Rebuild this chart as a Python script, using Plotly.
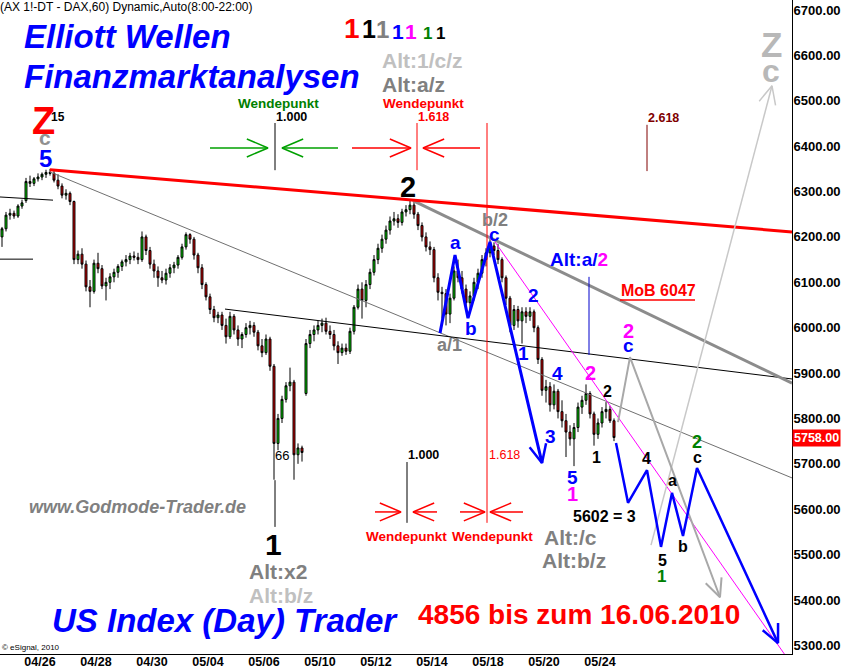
import math
import plotly.graph_objects as go

# ---------------- data (2-hour bars, index 0 = 23.04. afternoon) ----------------
bar = list(range(154))
opens = [6200,6218,6248,6252,6246,6268,6280,6322,6318,6328,6332,6338,6342,6340,6325,6312,6292,6296,6278,6150,
         6162,6140,6090,6080,6142,6130,6092,6100,6112,6122,6135,6145,6150,6158,6155,6150,6200,6170,6140,6125,
         6110,6105,6120,6132,6138,6155,6178,6205,6195,6160,6132,6095,6068,6040,6022,6028,6005,5980,6025,5995,
         5975,5985,6000,6005,5990,5960,5945,5975,5915,5745,5800,5842,5872,5880,5720,5735,5855,5965,5985,5995,
         6005,6010,5992,5985,5960,5945,5955,5948,5992,6045,6085,6060,6095,6122,6150,6175,6195,6215,6235,6240,
         6232,6255,6260,6270,6250,6225,6200,6178,6172,6110,6078,6075,6030,6065,6125,6110,6085,6055,6070,6100,
         6120,6150,6165,6180,6170,6150,6110,6065,6005,6040,6015,6035,6025,6035,6000,5930,5862,5870,5830,5860,
         5815,5795,5770,5755,5780,5825,5840,5855,5810,5765,5790,5815,5820,5795]
highs = [6222,6255,6262,6258,6272,6282,6330,6335,6332,6340,6342,6348,6350,6345,6338,6318,6305,6300,6280,6170,
         6175,6148,6105,6150,6165,6138,6110,6120,6130,6140,6150,6160,6165,6168,6165,6212,6205,6178,6150,6135,
         6125,6130,6140,6145,6160,6185,6210,6208,6200,6165,6140,6100,6075,6048,6035,6035,6020,6035,6030,6005,
         5990,6010,6015,6012,5995,5975,5985,5980,5920,5810,5850,5880,5912,5885,5745,5740,5975,5995,6005,6015,
         6020,6022,6005,5995,5970,5965,5965,6000,6050,6095,6100,6105,6130,6160,6185,6205,6225,6245,6255,6250,
         6262,6270,6282,6280,6255,6232,6210,6190,6178,6120,6090,6085,6075,6135,6150,6125,6095,6080,6110,6130,
         6160,6175,6195,6188,6185,6155,6115,6070,6050,6048,6045,6045,6045,6040,6005,5935,5885,5880,5875,5865,
         5840,5810,5785,5790,5835,5850,5875,5860,5815,5800,5825,5836,5828,5800]
lows = [6178,6212,6238,6240,6242,6262,6275,6310,6312,6322,6325,6330,6335,6320,6305,6285,6282,6270,6140,6140,
        6130,6080,6045,6075,6120,6085,6060,6085,6100,6110,6125,6135,6140,6148,6140,6145,6160,6130,6110,6090,
        6098,6095,6110,6120,6130,6150,6172,6185,6150,6120,6085,6060,6030,6012,6010,5995,5965,5975,5985,5960,
        5955,5978,5985,5980,5950,5935,5940,5905,5665,5730,5790,5835,5860,5665,5700,5705,5850,5955,5970,5985,
        5990,5985,5975,5950,5920,5938,5940,5942,5985,6040,6020,6045,6085,6115,6140,6165,6185,6205,6225,6220,
        6225,6245,6250,6240,6215,6190,6168,6160,6100,6060,6020,6005,6010,6060,6100,6075,6040,6035,6060,6085,
        6110,6135,6155,6160,6140,6100,6050,5990,5995,6000,5965,6010,6015,5990,5920,5850,5835,5815,5820,5800,
        5780,5715,5740,5695,5770,5810,5830,5800,5740,5755,5780,5800,5790,5750]
closes = [6218,6248,6252,6246,6268,6275,6322,6318,6328,6332,6338,6342,6340,6325,6312,6292,6296,6278,6150,6162,
          6140,6090,6080,6142,6130,6092,6100,6112,6122,6135,6145,6150,6158,6155,6150,6200,6170,6140,6125,6110,
          6105,6120,6132,6138,6155,6178,6205,6195,6160,6132,6095,6068,6040,6022,6028,6005,5980,6025,5995,5975,
          5985,6000,6005,5990,5960,5945,5975,5915,5745,5800,5842,5872,5880,5720,5735,5725,5965,5985,5995,6005,
          6010,5992,5985,5960,5945,5955,5948,5992,6045,6085,6060,6095,6122,6150,6175,6195,6215,6235,6240,6232,
          6255,6260,6270,6250,6225,6200,6178,6172,6110,6078,6075,6030,6065,6125,6110,6085,6055,6070,6100,6120,
          6150,6165,6180,6170,6150,6110,6065,6005,6040,6015,6035,6025,6035,6000,5930,5862,5870,5830,5860,5815,
          5795,5770,5755,5780,5825,5840,5855,5810,5765,5790,5815,5820,5795,5758]

day_labels = ["04/26", "04/28", "04/30", "05/04", "05/06", "05/10", "05/12", "05/14", "05/18", "05/20", "05/24"]
day_label_pos = [9.5, 23.5, 37.5, 51.5, 65.5, 79.5, 93.5, 107.5, 121.5, 135.5, 149.5]
price_ticks = [6700, 6600, 6500, 6400, 6300, 6200, 6100, 6000, 5900, 5800, 5700, 5600, 5500, 5400, 5300]
last_price = 5758

# analysis drawings (bar index, price)
red_trend_x, red_trend_y = [12, 197.5], [6348, 6211]
gray_thin_x, gray_thin_y = [12, 197.5], [6343, 5669]
gray_thick_x, gray_thick_y = [102.75, 197.5], [6280, 5878]
black_line_x, black_line_y = [55.75, 197.5], [6041, 5887]
left_line1_x, left_line1_y = [-0.5, 12.75], [6288, 6281]
left_line2_x, left_line2_y = [-0.5, 7.75], [6151, 6151]
abc_x, abc_y = [109.5, 113.25, 116.5, 122, 135], [5988, 6160, 6021, 6189, 5702]
proj_x = [153.5, 156.5, 161.25, 164.75, 167.5, 170.25, 173.75, 194]
proj_y = [5746, 5614, 5686, 5517, 5636, 5541, 5691, 5305]
alt_x, alt_y = [154, 157, 179.5], [5792, 5935, 5406]
altz_x, altz_y = [162.25, 192.5], [5521, 6533]
magenta_x, magenta_y = [123.25, 195.75], [6189, 5279]
blue_vert_x, blue_vert_y = [146.75, 146.75], [6112, 5940]
mob_ul_x, mob_ul_y = [154.5, 173.25], [6061, 6061]
# time projection markers: (x, y_top, y_bottom, color)
time_lines = [
    (68.25, 6451, 6347, "#000000"),
    (68.25, 5664, 5561, "#000000"),
    (103.75, 6451, 6347, "#FF0000"),
    (121.25, 6451, 5570, "#FF0000"),
    (101.25, 5704, 5570, "#000000"),
    (161.25, 6447, 6345, "#800000"),
]
# horizontal "Wendepunkt" arrows: (tail_x, tip_x, y, color)
turn_arrows = [
    (52, 66.5, 6396, "#00A000"), (84, 70, 6396, "#00A000"),
    (87.5, 102.25, 6396, "#FF0000"), (119.5, 105.25, 6396, "#FF0000"),
    (93.25, 99.75, 5594, "#FF0000"), (108.75, 102.75, 5594, "#FF0000"),
    (114.5, 120.75, 5594, "#FF0000"), (130.25, 122, 5594, "#FF0000"),
]

# ---------------- layout geometry ----------------
X0, X1 = -0.5, 197.5
Y0, Y1 = 5281, 6722
W, H = 842, 671
ML, MR, MT, MB = 0, 50, 0, 17
PW, PH = W - ML - MR, H - MT - MB
sx = PW / (X1 - X0)
sy = PH / (Y1 - Y0)
FONT = "Liberation Sans, Arial, sans-serif"


def chevron(xa, ya, xb, yb, L=20, ang=25):
    dx = (xa - xb) * sx
    dy = (ya - yb) * sy
    n = math.hypot(dx, dy)
    ux, uy = dx / n, dy / n
    pts = []
    for s in (1, -1):
        a = math.radians(ang * s)
        rx = ux * math.cos(a) - uy * math.sin(a)
        ry = ux * math.sin(a) + uy * math.cos(a)
        pts.append((xb + rx * L / sx, yb + ry * L / sy))
    return [pts[0][0], xb, pts[1][0]], [pts[0][1], yb, pts[1][1]]


fig = go.Figure()
fig.add_trace(go.Candlestick(
    x=bar, open=opens, high=highs, low=lows, close=closes,
    increasing=dict(fillcolor="#00DD00", line=dict(color="#000000", width=1)),
    decreasing=dict(fillcolor="#E00000", line=dict(color="#000000", width=1)),
    hoverinfo="skip", showlegend=False,
))


def line(xs, ys, color, width, dash=None):
    fig.add_trace(go.Scatter(x=xs, y=ys, mode="lines", hoverinfo="skip", showlegend=False,
                             line=dict(color=color, width=width, dash=dash)))


line(left_line1_x, left_line1_y, "#000000", 1)
line(left_line2_x, left_line2_y, "#000000", 1)
line(gray_thin_x, gray_thin_y, "#707070", 1)
line(black_line_x, black_line_y, "#000000", 1)
line(gray_thick_x, gray_thick_y, "#8C8C8C", 3)
line(red_trend_x, red_trend_y, "#FF0000", 3)
line(magenta_x, magenta_y, "#FF00FF", 1)
line(blue_vert_x, blue_vert_y, "#0000CC", 1)
line(mob_ul_x, mob_ul_y, "#FF0000", 1.5)
for (tx, yt, yb, col) in time_lines:
    line([tx, tx], [yt, yb], col, 1)
for (xt, xh, yy, col) in turn_arrows:
    line([xt, xh], [yy, yy], col, 1.5)
    hx, hy = chevron(xt, yy, xh, yy, L=23, ang=23)
    line(hx, hy, col, 1.5)

line(altz_x, altz_y, "#C8C8C8", 1.5)
hx, hy = chevron(altz_x[-2], altz_y[-2], altz_x[-1], altz_y[-1])
line(hx, hy, "#C8C8C8", 1.5)
line(alt_x, alt_y, "#A8A8A8", 2)
hx, hy = chevron(alt_x[-2], alt_y[-2], alt_x[-1], alt_y[-1])
line(hx, hy, "#A8A8A8", 2)
line(abc_x, abc_y, "#0000FF", 3)
hx, hy = chevron(abc_x[-2], abc_y[-2], abc_x[-1], abc_y[-1])
line(hx, hy, "#0000FF", 2.5)
line(proj_x, proj_y, "#0000FF", 2.5)
hx, hy = chevron(proj_x[-2], proj_y[-2], proj_x[-1], proj_y[-1])
line(hx, hy, "#0000FF", 2.5)

ann = []


def lab(t, x, y, color, size, bold=True, xanchor="center"):
    txt = f"<b>{t}</b>" if bold else t
    ann.append(dict(x=x, y=y, xref="x", yref="y", text=txt, showarrow=False, xanchor=xanchor,
                    yanchor="middle", font=dict(family=FONT, size=size, color=color)))


def ptxt(t, px, py, color, size, xanchor="left"):
    ann.append(dict(x=px / PW, y=1 - py / PH, xref="paper", yref="paper", text=t, showarrow=False,
                    xanchor=xanchor, yanchor="middle", font=dict(family=FONT, size=size, color=color)))


BLUE, MAG, GRAY, LGRAY, GREEN = "#0000FF", "#FF00FF", "#808080", "#C0C0C0", "#008000"

# titles and branding
ptxt("(AX 1!-DT - DAX,60) Dynamic,Auto(8:00-22:00)", -2, 7, "#000000", 12)
ptxt("<b><i>Elliott Wellen</i></b>", 22, 37, BLUE, 33)
ptxt("<b><i>Finanzmarktanalysen</i></b>", 22, 76, BLUE, 33)
ptxt("<b><i>www.Godmode-Trader.de</i></b>", 27, 507, GRAY, 18)
ptxt("<b><i>US Index (Day) Trader</i></b>", 50, 620, BLUE, 33)
ptxt("<b>4856 bis zum 16.06.2010</b>", 416, 614, "#FF0000", 28)
ptxt("© eSignal, 2010", 0, 647, "#000000", 8)
for (t, px, py, col, sz) in [("1", 352, 28, "#FF0000", 28), ("1", 369, 29, "#000000", 25),
                             ("1", 382, 30, GRAY, 24), ("1", 398, 31, BLUE, 21),
                             ("1", 411, 32, MAG, 21), ("1", 427, 33, GREEN, 17),
                             ("1", 440, 33, "#000000", 17)]:
    ptxt(f"<b>{t}</b>", px, py, col, sz, xanchor="center")
ptxt("<b>Alt:1/c/z</b>", 380, 61, LGRAY, 21)
ptxt("<b>Alt:a/z</b>", 380, 85, GRAY, 21)

# wave labels
lab("Z", 10.25, 6455, "#FF0000", 38)
lab("15", 14.1, 6464, "#000000", 12)
lab("c", 10.75, 6418, "#909090", 21)
lab("5", 10.75, 6372, BLUE, 24)
lab("2", 101.5, 6310, "#000000", 29)
lab("b/2", 123.25, 6237, GRAY, 18)
lab("c", 123, 6206, BLUE, 19)
lab("a", 113.25, 6187, BLUE, 19)
lab("b", 117.25, 5999, BLUE, 19)
lab("a/1", 111.75, 5962, GRAY, 18)
lab("1", 130.25, 5944, BLUE, 19)
lab("2", 132.75, 6070, BLUE, 19)
lab("Alt:a/<span style='color:#FF00FF'>2</span>", 144.25, 6151, BLUE, 19)
lab("MoB 6047", 164, 6081, "#FF0000", 16)
lab("4", 138.75, 5900, BLUE, 19)
lab("3", 137, 5761, BLUE, 19)
lab("2", 147, 5900, MAG, 20)
lab("2", 151.25, 5860, "#000000", 16)
lab("2", 156.5, 5993, MAG, 20)
lab("c", 156.5, 5960, BLUE, 19)
lab("5", 142.5, 5669, BLUE, 19)
lab("1", 142.5, 5633, MAG, 20)
lab("1", 148.5, 5715, "#000000", 16)
lab("4", 161, 5711, "#000000", 16)
lab("a", 167.5, 5664, "#000000", 16)
lab("2", 173.75, 5748, GREEN, 18)
lab("c", 173.75, 5713, "#000000", 16)
lab("b", 170.25, 5517, "#000000", 16)
lab("5", 165, 5486, "#000000", 16)
lab("1", 164.75, 5451, GREEN, 17)
lab("5602 = 3", 150.5, 5585, "#000000", 16)
lab("Alt:/c", 142, 5537, GRAY, 21)
lab("Alt:b/z", 143, 5486, GRAY, 21)
lab("1", 67.75, 5523, "#000000", 30)
lab("Alt:x2", 69, 5462, GRAY, 21)
lab("Alt:b/z", 69.75, 5409, LGRAY, 21)
lab("66", 70, 5719, "#000000", 13, bold=False)
lab("Z", 192.25, 6625, "#B8B8B8", 35)
lab("c", 192.25, 6566, "#B8B8B8", 32)
# Fibonacci time marks
lab("Wendepunkt", 69.1, 6495, GREEN, 13.5)
lab("1.000", 68.0, 6464, "#000000", 12.5, xanchor="left")
lab("Wendepunkt", 105.25, 6495, "#FF0000", 13.5)
lab("1.618", 103.5, 6464, "#FF0000", 12.5, xanchor="left")
lab("2.618", 161.0, 6462, "#800000", 12.5, xanchor="left")
lab("1.000", 101.0, 5719, "#000000", 12.5, xanchor="left")
lab("1.618", 121.25, 5719, "#FF0000", 12.5, bold=False, xanchor="left")
lab("Wendepunkt", 101.1, 5539, "#FF0000", 13.5)
lab("Wendepunkt", 122.5, 5539, "#FF0000", 13.5)

# last price box
ann.append(dict(x=1, y=last_price, xref="paper", yref="y", text=f"<b>{last_price:.2f}</b>",
                showarrow=False, xanchor="left", yanchor="middle", xshift=0, bgcolor="#FF0000",
                borderpad=1, font=dict(family=FONT, size=12.5, color="#FFFFFF")))

fig.update_layout(
    width=W, height=H, margin=dict(l=ML, r=MR, t=MT, b=MB),
    paper_bgcolor="#FFFFFF", plot_bgcolor="#FFFFFF", showlegend=False,
    annotations=ann, dragmode=False,
    xaxis=dict(range=[X0, X1], showgrid=False, zeroline=False, showline=True, linecolor="#000000",
               linewidth=1, tickvals=day_label_pos, ticktext=day_labels, ticks="", ticklen=0,
               ticklabelstandoff=-4,
               tickfont=dict(family=FONT, size=12.5, color="#000000", weight="bold"),
               rangeslider=dict(visible=False), fixedrange=True, automargin=False),
    yaxis=dict(range=[Y0, Y1], side="right", showgrid=False, zeroline=False, showline=True,
               linecolor="#000000", linewidth=1, tickvals=price_ticks,
               ticktext=[f"{v:.2f}" for v in price_ticks], ticks="", ticklen=0,
               ticklabelstandoff=-2,
               tickfont=dict(family=FONT, size=13, color="#000000", weight="bold"),
               fixedrange=True, automargin=False),
)

fig.write_html("out.html", config={"displayModeBar": False, "staticPlot": True},
               post_script="document.body.style.margin='0';document.body.style.overflow='hidden';")
